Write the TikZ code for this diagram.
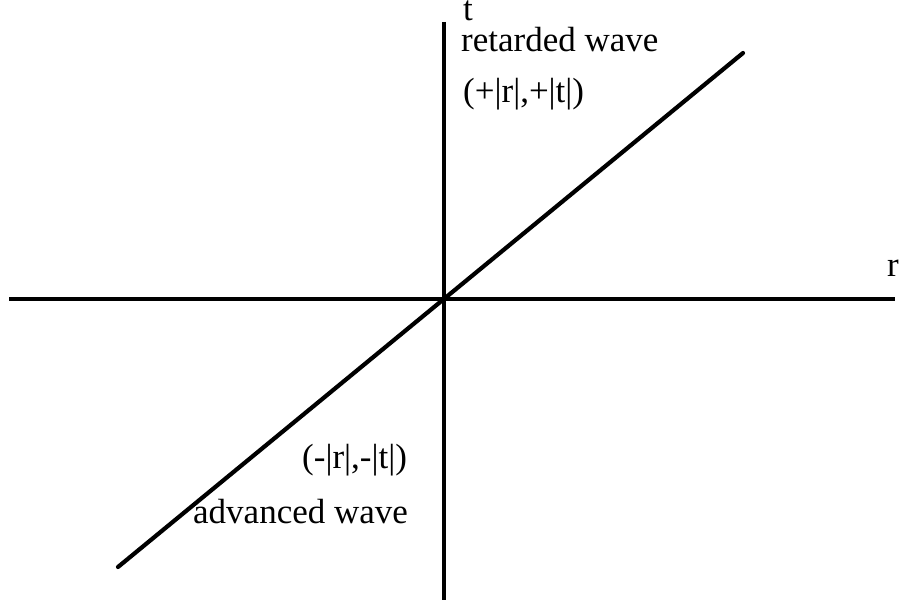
\documentclass[tikz,border=0pt]{standalone}
\usepackage{fontspec}
\setmainfont{Liberation Serif}
\usepackage{tikz}
\tikzset{
  axis/.style={black, line width=4pt},
  wline/.style={black, line width=4.2pt, line cap=round},
  lbl/.style={anchor=base west, inner sep=0pt, font=\fontsize{35}{42}\selectfont},
}

\begin{document}
\begin{tikzpicture}[x=1pt, y=-1pt]
  \useasboundingbox (0,0) rectangle (902,604);
  % --- axes end points ---
  \coordinate (rl) at (9,299);
  \coordinate (rr) at (895,299);
  \coordinate (tt) at (444,22);
  \coordinate (tb) at (444,600);
  % --- light-cone line ---
  \coordinate (lo) at (118,567);
  \coordinate (hi) at (743,53);

  % --- axes ---
  \draw[axis] (rl) -- (rr);
  \draw[axis] (tt) -- (tb);
  \draw[wline] (lo) -- (hi);

  % --- labels ---
  \node[lbl] (tlab) at (463,21) {t};
  \node[lbl] (rlab) at (887,276) {r};
  \node[lbl] (ret) at (461,52) {retarded wave};
  \node[lbl] (pp) at (463,103) {(+|r|,+|t|)};
  \node[lbl] (mm) at (302,468) {(-|r|,-|t|)};
  \node[lbl] (adv) at (193,523) {advanced wave};
\end{tikzpicture}
\end{document}
